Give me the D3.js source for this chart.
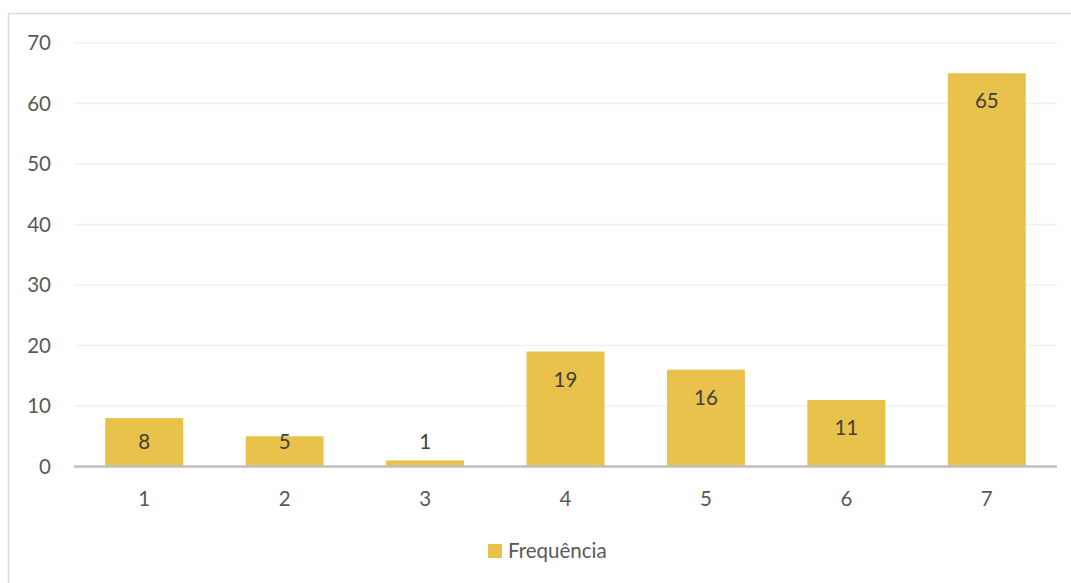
<!DOCTYPE html>
<html><head><meta charset="utf-8">
<script src="https://cdn.jsdelivr.net/npm/d3@7"></script>
<style>
html,body{margin:0;padding:0;background:#fff;}
svg{display:block;font-family:Lato,"Open Sans",sans-serif;}
</style></head>
<body><svg id="c" width="1071" height="583"></svg>
<script>
const categories = ["1","2","3","4","5","6","7"];
const values = [8,5,1,19,16,11,65];
const yTicks = [0,10,20,30,40,50,60,70];
const seriesName = "Frequência";

const svg = d3.select("#c");
const W = 1071, H = 583;
const FS = 20.5;
const m = {left:74, right:14, top:43, bottom:116};
const x = d3.scaleBand().domain(categories).range([m.left, W - m.right]).paddingInner(0.445).paddingOuter(0.2225);
const y = d3.scaleLinear().domain([0,70]).range([466.5, 43]);

// outer frame
svg.append("rect").attr("x",8.5).attr("y",13.5).attr("width",W+10).attr("height",H+10)
  .attr("fill","none").attr("stroke","#d9d9d9").attr("stroke-width",1.5);

// gridlines
svg.append("g").selectAll("line").data(yTicks.filter(d=>d>0)).join("line")
  .attr("x1",m.left).attr("x2",W-m.right)
  .attr("y1",d=>y(d)).attr("y2",d=>y(d))
  .attr("stroke","#f0f0f0").attr("stroke-width",1.3);

// y axis labels
const yAxis = d3.axisLeft(y).tickValues(yTicks).tickSize(0).tickPadding(0);
const gy = svg.append("g").attr("transform","translate(51,0)").call(yAxis);
gy.select(".domain").remove();
gy.selectAll("text").attr("font-size",FS).attr("fill","#595959").attr("font-family","Lato");

// bars
svg.append("g").selectAll("rect").data(values).join("rect")
  .attr("x",(d,i)=>x(categories[i]))
  .attr("width",x.bandwidth())
  .attr("y",d=>y(d))
  .attr("height",d=>y(0)-y(d))
  .attr("fill","#e8c24b");

// baseline
svg.append("line").attr("x1",m.left).attr("x2",W-m.right)
  .attr("y1",y(0)).attr("y2",y(0)).attr("stroke","#bfbfbf").attr("stroke-width",2.5);

// x axis labels
const xAxis = d3.axisBottom(x).tickSize(0).tickPadding(0);
const gx = svg.append("g").attr("transform","translate(0,493)").call(xAxis);
gx.select(".domain").remove();
gx.selectAll("text").attr("font-size",FS).attr("fill","#595959").attr("font-family","Lato").attr("dy","0.32em").attr("y",6);

// data labels
svg.append("g").selectAll("text").data(values).join("text")
  .attr("x",(d,i)=>x(categories[i])+x.bandwidth()/2)
  .attr("y",d=>Math.min(y(d)+28, 442))
  .attr("dy","0.35em")
  .attr("text-anchor","middle")
  .attr("font-size",FS).attr("fill","#404040")
  .text(d=>d);

// legend
const lg = svg.append("g");
lg.append("rect").attr("x",488).attr("y",544).attr("width",14).attr("height",14).attr("fill","#e8c24b");
lg.append("text").attr("x",508).attr("y",551).attr("dy","0.35em").attr("font-size",FS).attr("fill","#595959").text(seriesName);
</script>
</body></html>
